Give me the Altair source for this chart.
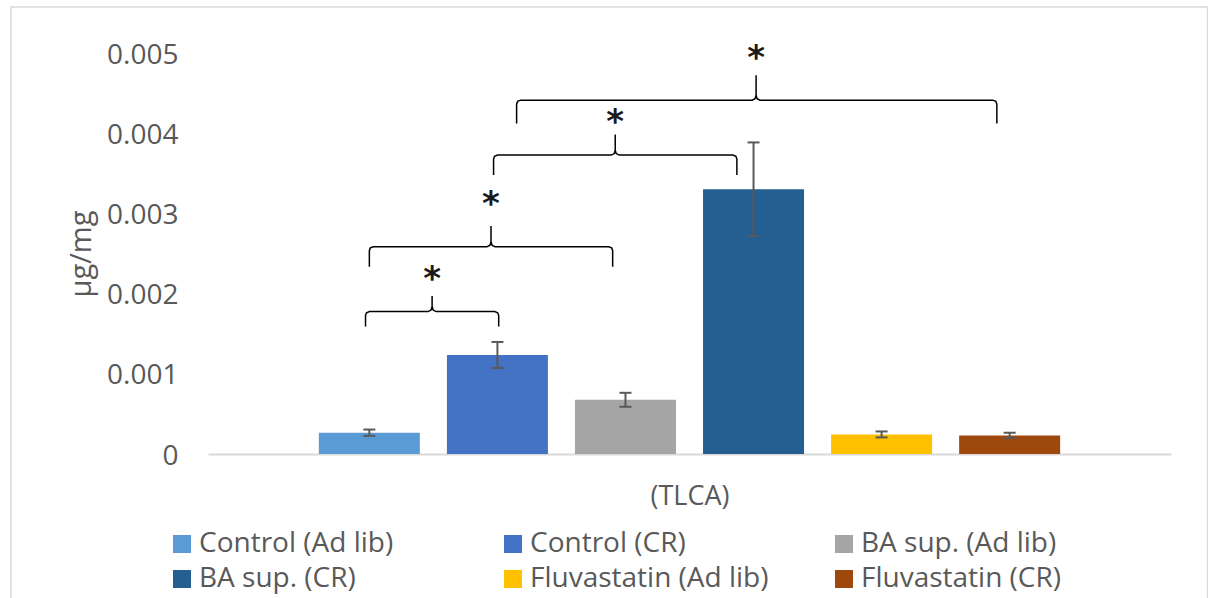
import altair as alt
import pandas as pd

# ---------------- data ----------------
GROUPS = ["Control (Ad lib)", "Control (CR)", "BA sup. (Ad lib)",
          "BA sup. (CR)", "Fluvastatin (Ad lib)", "Fluvastatin (CR)"]
VALUES = [0.000266, 0.001235, 0.000676, 0.003302, 0.000244, 0.000232]
ERRORS = [0.000039, 0.000162, 0.000087, 0.000583, 0.000037, 0.000033]
COLORS = ["#5B9BD5", "#4472C4", "#A5A5A5", "#255E91", "#FFC000", "#9E480E"]
Y_TICKS = [0, 0.001, 0.002, 0.003, 0.004, 0.005]
CATEGORY = "(TLCA)"
Y_TITLE = "µg/mg"

# significance braces (x in bar-index units, y in µg/mg)
BRACKET_LEFT = [-0.03, 0.00, 0.97, 1.15]
BRACKET_RIGHT = [1.01, 1.90, 2.87, 4.90]
BRACKET_MID = [0.49, 0.95, 1.92, 3.02]
BRACKET_LINE = [0.001776, 0.002585, 0.003727, 0.004412]
BRACKET_END = [0.001589, 0.002336, 0.003478, 0.004122]
BRACKET_PEAK = [0.001971, 0.002843, 0.003985, 0.004723]
STAR_Y = [0.002220, 0.003154, 0.004172, 0.004973]
STAR_TEXT = ["*", "*", "*", "*"]

# ---------------- layout / style ----------------
W, H = 963, 401
X_DOMAIN = [-1.26, 6.26]
Y_DOMAIN = [0, 0.005]
PX = (X_DOMAIN[1] - X_DOMAIN[0]) / W      # data units per pixel (x)
PY = (Y_DOMAIN[1] - Y_DOMAIN[0]) / H      # data units per pixel (y)
HALF_BAR = 50.5 * PX
HALF_CAP = 6 * PX
FONT = "Open Sans"
GREY = "#595959"

bars_df = pd.DataFrame({"group": GROUPS, "value": VALUES, "err": ERRORS})
bars_df["idx"] = range(len(GROUPS))
bars_df["x0"] = bars_df["idx"] - HALF_BAR
bars_df["x1"] = bars_df["idx"] + HALF_BAR
bars_df["lo"] = bars_df["value"] - bars_df["err"]
bars_df["hi"] = bars_df["value"] + bars_df["err"]
bars_df["cl"] = bars_df["idx"] - HALF_CAP
bars_df["cr"] = bars_df["idx"] + HALF_CAP

rows = []
for b in range(len(BRACKET_LEFT)):
    L, R, M = BRACKET_LEFT[b], BRACKET_RIGHT[b], BRACKET_MID[b]
    yl, yb, yt = BRACKET_LINE[b], BRACKET_END[b], BRACKET_PEAK[b]
    pts = [(L, yb), (L, yl - 4 * PY), (L + 1 * PX, yl - 1.2 * PY), (L + 4 * PX, yl),
           (M - 4 * PX, yl), (M - 1 * PX, yl + 1.5 * PY), (M, yl + 5 * PY), (M, yt),
           (M, yl + 5 * PY), (M + 1 * PX, yl + 1.5 * PY), (M + 4 * PX, yl),
           (R - 4 * PX, yl), (R - 1 * PX, yl - 1.2 * PY), (R, yl - 4 * PY), (R, yb)]
    for s, (px_, py_) in enumerate(pts):
        rows.append({"b": b, "seq": s, "bx": px_, "by": py_})
brace_df = pd.DataFrame(rows)
star_df = pd.DataFrame({"mid": BRACKET_MID, "star": STAR_Y, "t": STAR_TEXT})

xscale = alt.Scale(domain=X_DOMAIN, nice=False, zero=False)
yscale = alt.Scale(domain=Y_DOMAIN, nice=False)

x_axis = alt.Axis(labels=False, ticks=False, grid=False, domain=True,
                  domainColor="#D9D9D9", domainWidth=2, title=CATEGORY,
                  titleFont=FONT, titleFontSize=27, titleFontWeight="normal",
                  titleColor=GREY, titleBaseline="alphabetic", titleY=50)
y_axis = alt.Axis(values=Y_TICKS, ticks=False, domain=False, grid=False,
                  labelExpr="datum.value == 0 ? '0' : format(datum.value, '.3f')",
                  labelPadding=30, labelFont=FONT, labelFontSize=28, labelColor=GREY,
                  labelOffset=2,
                  title=Y_TITLE, titleFont=FONT, titleFontSize=29, titleFontWeight="normal",
                  titleColor=GREY, titleAngle=270, titleBaseline="alphabetic",
                  titleAlign="center", titleX=-118, titleY=H / 2)

frame = alt.Chart(pd.DataFrame({"f": [0]})).mark_rect(
    fillOpacity=0, stroke="#D9D9D9", strokeWidth=1.5
).encode(x=alt.value(-197), x2=alt.value(999.5), y=alt.value(-46), y2=alt.value(600))

bars = alt.Chart(bars_df).mark_rect().encode(
    x=alt.X("x0:Q", scale=xscale, axis=x_axis),
    x2="x1:Q",
    y=alt.Y("value:Q", scale=yscale, axis=y_axis),
    y2=alt.datum(0),
    color=alt.Color("group:N", scale=alt.Scale(domain=GROUPS, range=COLORS),
                    legend=alt.Legend(orient="none", legendX=-40, legendY=477,
                                      direction="horizontal",
                                      columns=3, title=None, symbolType="square",
                                      symbolSize=324, symbolStrokeWidth=0,
                                      labelFont=FONT, labelFontSize=28, labelColor=GREY,
                                      labelOffset=3, columnPadding=61, rowPadding=7,
                                      gridAlign="all", labelLimit=400, padding=0)),
)

err_v = alt.Chart(bars_df).mark_rule(color=GREY, strokeWidth=2).encode(
    x="idx:Q", y="lo:Q", y2="hi:Q")
cap_lo = alt.Chart(bars_df).mark_rule(color=GREY, strokeWidth=2).encode(
    x="cl:Q", x2="cr:Q", y="lo:Q")
cap_hi = alt.Chart(bars_df).mark_rule(color=GREY, strokeWidth=2).encode(
    x="cl:Q", x2="cr:Q", y="hi:Q")

braces = alt.Chart(brace_df).mark_line(color="black", strokeWidth=1.5).encode(
    x="bx:Q", y="by:Q", detail="b:N", order="seq:Q")

stars = alt.Chart(star_df).mark_text(
    font="DejaVu Sans", fontWeight="bold", fontSize=34, color="#1a1a1a",
    baseline="middle", align="center", dy=4
).encode(x="mid:Q", y="star:Q", text="t:N")

chart = alt.layer(frame, bars, err_v, cap_lo, cap_hi, braces, stars).properties(
    width=W, height=H,
    autosize=alt.AutoSizeParams(type="none"),
    padding={"left": 208, "top": 53, "right": 1208 - 208 - W, "bottom": 598 - 53 - H},
    background="white",
).configure_view(stroke=None)

chart.save("out.html", embed_options={"renderer": "svg", "actions": False})
